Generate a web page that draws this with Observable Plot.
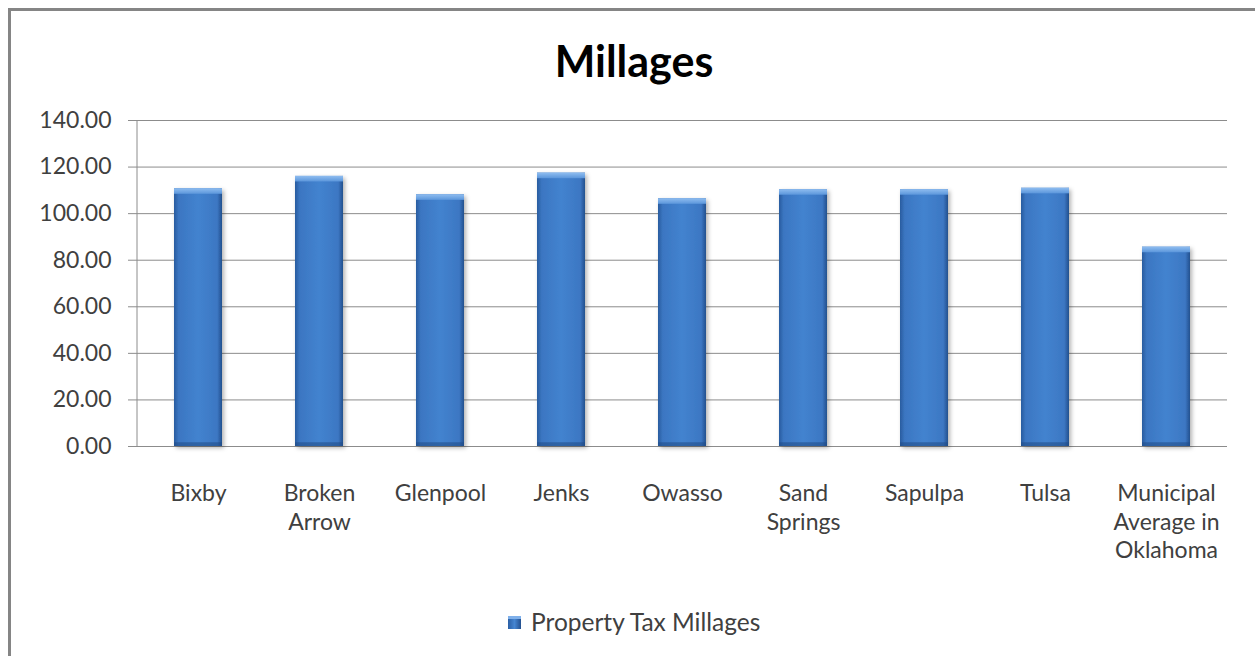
<!DOCTYPE html>
<html>
<head>
<meta charset="utf-8">
<script src="https://cdn.jsdelivr.net/npm/d3@7"></script>
<script src="https://cdn.jsdelivr.net/npm/@observablehq/plot@0.6"></script>
<style>
  html, body { margin: 0; padding: 0; background: #fff; width: 1255px; height: 656px; overflow: hidden; }
  body { position: relative; font-family: Lato, "Open Sans", sans-serif; color: #404040; }
  #frame { position: absolute; left: 8px; top: 8px; width: 1260px; height: 670px; border-left: 3px solid #858585; border-top: 3px solid #858585; box-sizing: border-box; }
  #title { position: absolute; left: 0; width: 1268px; top: 36px; text-align: center; font-size: 43px; font-weight: 700; color: #000; line-height: 50px; }
  #chart { position: absolute; left: 0; top: 95px; }
  #legend { position: absolute; left: 508px; top: 608px; font-size: 24.5px; line-height: 28px; color: #404040; display: flex; align-items: center; }
  #legend .sw { width: 13px; height: 13px; margin-right: 10px; background: linear-gradient(90deg, #2b5fa5, #4686d2 50%, #24508f); box-shadow: inset 0 3px 0 #7fb0ea; }
</style>
</head>
<body>
<div id="frame"></div>
<div id="title">Millages</div>
<div id="chart"></div>
<div id="legend"><div class="sw"></div><span>Property Tax Millages</span></div>
<script>
const categories = ["Bixby", "Broken\nArrow", "Glenpool", "Jenks", "Owasso", "Sand\nSprings", "Sapulpa", "Tulsa", "Municipal\nAverage in\nOklahoma"];
const millages = [110.7, 116.0, 108.1, 117.4, 106.4, 110.3, 110.3, 110.9, 85.6];
const yTicks = [0, 20, 40, 60, 80, 100, 120, 140];

const data = categories.map((c, i) => ({c, v: millages[i]}));

const plot = Plot.plot({
  width: 1255,
  height: 500,
  marginTop: 25,
  marginBottom: 149,
  marginLeft: 137,
  marginRight: 28,
  style: {fontFamily: "Lato, 'Open Sans', sans-serif", fontSize: "23px", color: "#404040", background: "transparent"},
  x: {domain: categories, paddingInner: 0.6, paddingOuter: 0.3, label: null},
  y: {domain: [0, 140], label: null},
  marks: [
    Plot.gridY(yTicks, {stroke: "#8c8c8c", strokeOpacity: 1, strokeWidth: 1}),
    Plot.axisY(yTicks, {tickFormat: d3.format(".2f"), tickSize: 9, tickPadding: 17, stroke: "#8c8c8c", fontSize: 23, fill: "#404040"}),
    Plot.axisX({tickSize: 0, tickPadding: 34, fontSize: 23, lineHeight: 1.25, fill: "#404040"}),
    Plot.barY(data, {x: "c", y: "v", fill: "url(#barGrad)"}),
    Plot.rectY(data, {x: "c", y1: d => d.v - 2.4, y2: "v", fill: "url(#bevelGrad)"}),
    Plot.rectY(data, {x: "c", y1: 0, y2: 1.6, fill: "#1f4a85", fillOpacity: 0.55})
  ]
});

const svg = d3.select(plot);
const defs = svg.insert("defs", ":first-child");
const g = defs.append("linearGradient").attr("id", "barGrad").attr("x1", "0").attr("x2", "1").attr("y1", "0").attr("y2", "0");
[[0, "#2a5c9f"], [0.1, "#3b76c2"], [0.5, "#4383cf"], [0.9, "#3c77c3"], [1, "#22508e"]].forEach(([o, c]) => g.append("stop").attr("offset", o).attr("stop-color", c));
const b = defs.append("linearGradient").attr("id", "bevelGrad").attr("x1", "0").attr("x2", "0").attr("y1", "0").attr("y2", "1");
[[0, "#8fbdf0"], [1, "#5b96db"]].forEach(([o, c]) => b.append("stop").attr("offset", o).attr("stop-color", c));
const f = defs.append("filter").attr("id", "shadow").attr("x", "-20%").attr("y", "-5%").attr("width", "150%").attr("height", "115%");
f.append("feDropShadow").attr("dx", 2).attr("dy", 2).attr("stdDeviation", 2).attr("flood-color", "#000").attr("flood-opacity", 0.3);

svg.selectAll("g[aria-label='bar']").attr("filter", "url(#shadow)");

// left axis line
const ys = plot.scale("y");
const xs = plot.scale("x");
svg.append("line")
  .attr("x1", xs.range[0]).attr("x2", xs.range[0])
  .attr("y1", ys.range[0]).attr("y2", ys.range[1])
  .attr("stroke", "#8c8c8c").attr("stroke-width", 1);

document.getElementById("chart").appendChild(plot);
</script>
</body>
</html>
